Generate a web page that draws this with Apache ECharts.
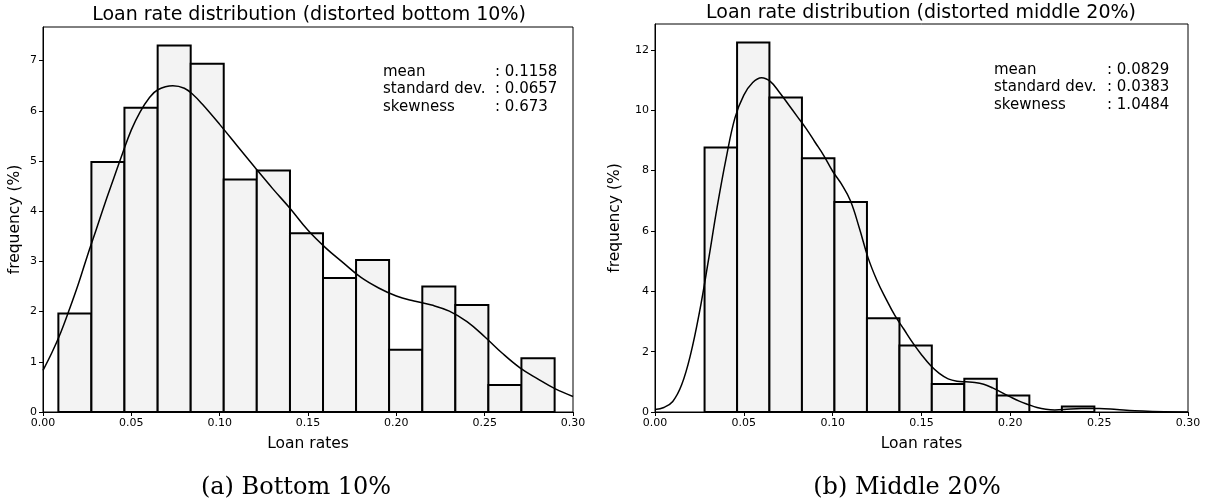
<!DOCTYPE html>
<html>
<head>
<meta charset="utf-8">
<script src="https://cdn.jsdelivr.net/npm/echarts@6/dist/echarts.min.js"></script>
<style>
html,body{margin:0;padding:0;background:#fff;}
#chart{width:1210px;height:504px;}
</style>
</head>
<body>
<div id="chart"></div>
<script>
// ---------- data ----------
const xTicks = [0, 0.05, 0.10, 0.15, 0.20, 0.25, 0.30];
const leftYTicks = [0, 1, 2, 3, 4, 5, 6, 7];
const rightYTicks = [0, 2, 4, 6, 8, 10, 12];

const leftTitle = 'Loan rate distribution (distorted bottom 10%)';
const rightTitle = 'Loan rate distribution (distorted middle 20%)';
const leftCaption = '(a) Bottom 10%';
const rightCaption = '(b) Middle 20%';
const statLabels = ['mean', 'standard dev.', 'skewness'];
const leftStats = [': 0.1158', ': 0.0657', ': 0.673'];
const rightStats = [': 0.0829', ': 0.0383', ': 1.0484'];

const leftEdges = [0.0087, 0.0274, 0.0461, 0.0649, 0.0836, 0.1023, 0.1210, 0.1398, 0.1585, 0.1772, 0.1959, 0.2147, 0.2334, 0.2521, 0.2708, 0.2896];
const leftFreq = [1.96, 4.98, 6.06, 7.30, 6.94, 4.63, 4.81, 3.56, 2.67, 3.03, 1.24, 2.50, 2.13, 0.54, 1.07];

const rightEdges = [0.0279, 0.0462, 0.0644, 0.0827, 0.1010, 0.1193, 0.1376, 0.1558, 0.1741, 0.1924, 0.2107, 0.2290, 0.2473];
const rightFreq = [8.77, 12.25, 10.42, 8.41, 6.96, 3.11, 2.20, 0.93, 1.10, 0.55, 0.00, 0.18];

const leftKdeX = [0.000, 0.005, 0.010, 0.015, 0.020, 0.025, 0.030, 0.035, 0.040, 0.045, 0.050, 0.055, 0.060, 0.065, 0.0735, 0.080, 0.085, 0.090, 0.100, 0.110, 0.120, 0.130, 0.140, 0.150, 0.160, 0.170, 0.180, 0.190, 0.200, 0.210, 0.220, 0.230, 0.240, 0.250, 0.260, 0.270, 0.280, 0.290, 0.300];
const leftKdeY = [0.83, 1.18, 1.58, 2.05, 2.55, 3.10, 3.62, 4.15, 4.65, 5.15, 5.62, 5.98, 6.25, 6.42, 6.50, 6.45, 6.32, 6.14, 5.73, 5.30, 4.87, 4.45, 4.05, 3.62, 3.27, 2.97, 2.68, 2.47, 2.31, 2.21, 2.13, 2.01, 1.80, 1.50, 1.17, 0.88, 0.66, 0.46, 0.31];

const rightKdeX = [0.000, 0.005, 0.010, 0.015, 0.020, 0.025, 0.030, 0.035, 0.040, 0.045, 0.050, 0.055, 0.060, 0.065, 0.070, 0.075, 0.080, 0.085, 0.090, 0.095, 0.100, 0.105, 0.110, 0.115, 0.120, 0.125, 0.130, 0.135, 0.140, 0.145, 0.150, 0.155, 0.160, 0.165, 0.170, 0.175, 0.180, 0.185, 0.190, 0.195, 0.200, 0.205, 0.210, 0.215, 0.220, 0.225, 0.230, 0.240, 0.250, 0.260, 0.270, 0.280, 0.300];
const rightKdeY = [0.08, 0.15, 0.35, 0.90, 1.90, 3.30, 5.00, 6.80, 8.40, 9.75, 10.50, 10.92, 11.08, 10.95, 10.60, 10.20, 9.80, 9.40, 8.95, 8.50, 7.98, 7.55, 7.00, 6.10, 5.10, 4.35, 3.75, 3.20, 2.75, 2.30, 1.90, 1.55, 1.28, 1.10, 1.02, 1.00, 0.98, 0.92, 0.80, 0.65, 0.50, 0.36, 0.25, 0.15, 0.09, 0.07, 0.08, 0.12, 0.12, 0.08, 0.04, 0.02, 0.00];

// ---------- helpers ----------
function barsData(edges, freq) {
  return freq.map((f, i) => [edges[i], edges[i + 1], f]);
}
function pairs(xs, ys) { return xs.map((x, i) => [x, ys[i]]); }

const SANS = 'DejaVu Sans';
const tickFont = { fontFamily: SANS, fontSize: 11, color: '#000' };

function xAxis(gi) {
  return {
    type: 'value', gridIndex: gi, min: 0, max: 0.3, interval: 0.05,
    name: 'Loan rates', nameLocation: 'middle', nameGap: 24,
    nameTextStyle: { fontFamily: SANS, fontSize: 15.5, color: '#000' },
    axisLine: { show: true, onZero: false, lineStyle: { color: '#000', width: 1 } },
    axisTick: { show: true, length: 4, customValues: xTicks, lineStyle: { color: '#000' } },
    axisLabel: Object.assign({ margin: 6, customValues: xTicks, formatter: v => v.toFixed(2) }, tickFont),
    splitLine: { show: false }
  };
}
function yAxis(gi, max, ticks, gap) {
  return {
    type: 'value', gridIndex: gi, min: 0, max: max,
    name: 'frequency (%)', nameLocation: 'middle', nameGap: gap, nameRotate: 90,
    nameTextStyle: { fontFamily: SANS, fontSize: 15.5, color: '#000' },
    axisLine: { show: true, onZero: false, lineStyle: { color: '#000', width: 1 } },
    axisTick: { show: true, length: 4, customValues: ticks, lineStyle: { color: '#000' } },
    axisLabel: Object.assign({ margin: 6, customValues: ticks, formatter: v => String(v) }, tickFont),
    splitLine: { show: false }
  };
}
function renderBar(params, api) {
  const x0 = api.value(0), x1 = api.value(1), h = api.value(2);
  const p0 = api.coord([x0, h]);
  const p1 = api.coord([x1, 0]);
  return {
    type: 'rect',
    shape: { x: p0[0], y: p0[1], width: p1[0] - p0[0], height: p1[1] - p0[1] },
    style: { fill: '#f3f3f3', stroke: '#000', lineWidth: 2 }
  };
}
function statGraphics(xLabel, xVal, ys, vals) {
  const out = [];
  statLabels.forEach((t, i) => {
    out.push({ type: 'text', x: xLabel, y: ys[i], style: { text: t, font: '15px "DejaVu Sans"', fill: '#000', align: 'left', verticalAlign: 'middle' } });
    out.push({ type: 'text', x: xVal, y: ys[i], style: { text: vals[i], font: '15px "DejaVu Sans"', fill: '#000', align: 'left', verticalAlign: 'middle' } });
  });
  return out;
}

const chart = echarts.init(document.getElementById('chart'), null, { renderer: 'canvas' });
const option = {
  animation: false,
  backgroundColor: '#fff',
  grid: [
    { left: 43, top: 27, width: 530, height: 385, show: true, borderColor: '#000', borderWidth: 1, backgroundColor: 'transparent' },
    { left: 655, top: 24, width: 533, height: 388, show: true, borderColor: '#000', borderWidth: 1, backgroundColor: 'transparent' }
  ],
  xAxis: [xAxis(0), xAxis(1)],
  yAxis: [yAxis(0, 7.67, leftYTicks, 20), yAxis(1, 12.86, rightYTicks, 32)],
  series: [
    { type: 'custom', xAxisIndex: 0, yAxisIndex: 0, renderItem: renderBar, data: barsData(leftEdges, leftFreq), encode: { x: [0, 1], y: 2 }, z: 2 },
    { type: 'line', xAxisIndex: 0, yAxisIndex: 0, data: pairs(leftKdeX, leftKdeY), smooth: 0.4, showSymbol: false, symbol: 'none', lineStyle: { color: '#000', width: 1.5 }, z: 3 },
    { type: 'custom', xAxisIndex: 1, yAxisIndex: 1, renderItem: renderBar, data: barsData(rightEdges, rightFreq), encode: { x: [0, 1], y: 2 }, z: 2 },
    { type: 'line', xAxisIndex: 1, yAxisIndex: 1, data: pairs(rightKdeX, rightKdeY), smooth: 0.4, showSymbol: false, symbol: 'none', lineStyle: { color: '#000', width: 1.5 }, z: 3 }
  ],
  graphic: [
    { type: 'text', x: 309, y: 15, style: { text: leftTitle, font: '19px "DejaVu Sans"', fill: '#000', align: 'center', verticalAlign: 'middle' } },
    { type: 'text', x: 921, y: 13, style: { text: rightTitle, font: '19px "DejaVu Sans"', fill: '#000', align: 'center', verticalAlign: 'middle' } },
    { type: 'text', x: 296, y: 488, style: { text: leftCaption, font: '24px "DejaVu Serif"', fill: '#000', align: 'center', verticalAlign: 'middle' } },
    { type: 'text', x: 907, y: 488, style: { text: rightCaption, font: '24px "DejaVu Serif"', fill: '#000', align: 'center', verticalAlign: 'middle' } }
  ].concat(statGraphics(383, 495, [72, 89, 107], leftStats))
   .concat(statGraphics(994, 1107, [70, 87, 105], rightStats))
};
chart.setOption(option);
</script>
</body>
</html>
